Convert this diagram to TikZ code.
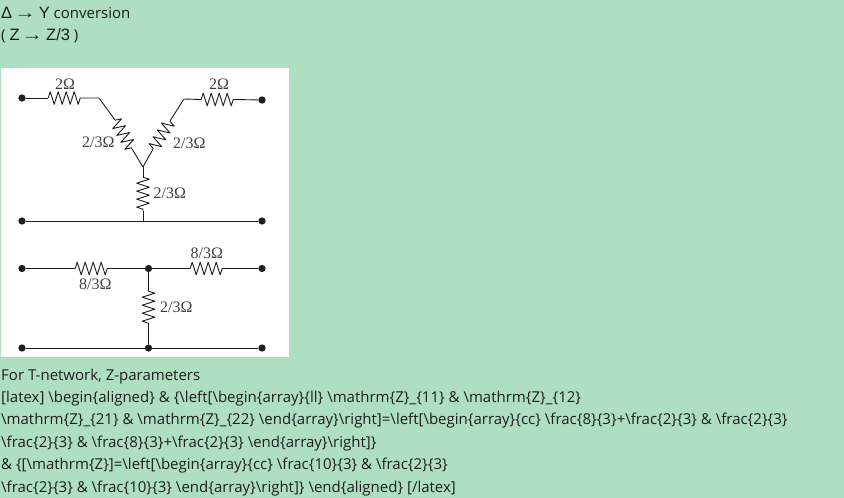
\documentclass[tikz,border=0pt]{standalone}
\usepackage{graphicx}
\usepackage{fontspec}
\setmainfont{Open Sans}
\newfontfamily\symfont{Liberation Sans}
\newfontfamily\labfont{Liberation Serif}
\usetikzlibrary{decorations.pathmorphing}
\definecolor{bgmint}{HTML}{ADDFC0}
\definecolor{ink}{HTML}{1E1E1E}
\newcommand{\bs}{\textbackslash{}}
\newcommand{\bigsym}{\symfont\fontsize{16.5}{16.5}\selectfont}
\newcommand{\longarrow}{\hspace{-2.5pt}\scalebox{1.3}[1]{→}\hspace{-1.5pt}}
\tikzset{
  x=1pt,y=-1pt,
  wire/.style={draw=ink,line width=0.9pt,line join=round},
  res/.style={wire,decorate,decoration={zigzag,segment length=8pt,amplitude=6.3pt,pre length=0pt,post length=0pt}},
  term/.style={circle,fill=ink,draw=none,minimum size=7.3pt,inner sep=0pt},
  joint/.style={inner sep=0pt,minimum size=0pt},
  lab/.style={font=\labfont\fontsize{16}{16}\selectfont,text=ink!85,inner sep=0pt,anchor=base west},
  txt/.style={font=\fontsize{15}{17}\selectfont,text=ink,inner sep=0pt,anchor=base west},
}
\begin{document}
\begin{tikzpicture}
\useasboundingbox (0,0) rectangle (844,498);
\fill[bgmint] (0,0) rectangle (844,498);
\fill[white] (1,68) rectangle (289,357);
% upper network
\node[term] (a1) at (22,98) {};
\node[term] (a2) at (262,100) {};
\node[term] (a3) at (22,221) {};
\node[term] (a4) at (262,221) {};
\node[joint] (j) at (143,167) {};
\node[joint] (jb) at (143,221) {};
\node[joint] (p1) at (48,98) {};
\node[joint] (p2) at (83,98) {};
\node[joint] (p3) at (99,98) {};
\node[joint] (p4) at (115,120) {};
\node[joint] (p5) at (132,149) {};
\node[joint] (q1) at (235,99.5) {};
\node[joint] (q2) at (201,99.5) {};
\node[joint] (q3) at (184,99) {};
\node[joint] (q4) at (170,121) {};
\node[joint] (q5) at (153,149) {};
\node[joint] (r1) at (143,177) {};
\node[joint] (r2) at (143,211) {};
\draw[wire] (a1) -- (p1);
\draw[res] (p1) -- (p2);
\draw[wire] (p2) -- (p3) -- (p4);
\draw[res] (p4) -- (p5);
\draw[wire] (p5) -- (j);
\draw[wire] (a2) -- (q1);
\draw[res] (q2) -- (q1);
\draw[wire] (q2) -- (q3) -- (q4);
\draw[res] (q4) -- (q5);
\draw[wire] (q5) -- (j);
\draw[wire] (j) -- (r1);
\draw[res] (r1) -- (r2);
\draw[wire] (r2) -- (jb);
\draw[wire] (a3) -- (a4);
\node[lab] (l1) at (55,89) {2Ω};
\node[lab] (l2) at (209,89) {2Ω};
\node[lab] (l3) at (82,147.5) {2/3Ω};
\node[lab] (l4) at (173,148.5) {2/3Ω};
\node[lab] (l5) at (153.5,198) {2/3Ω};
% lower network
\node[term] (b1) at (22,268.5) {};
\node[term] (b2) at (148.5,268.5) {};
\node[term] (b3) at (262,268.5) {};
\node[term] (b4) at (22,348) {};
\node[term] (b5) at (148.5,348) {};
\node[term] (b6) at (262,348) {};
\node[joint] (s1) at (75,268.5) {};
\node[joint] (s2) at (109,268.5) {};
\node[joint] (t1) at (190,268.5) {};
\node[joint] (t2) at (224,268.5) {};
\node[joint] (u1) at (148.5,291) {};
\node[joint] (u2) at (148.5,325) {};
\draw[wire] (b1) -- (s1);
\draw[res] (s1) -- (s2);
\draw[wire] (s2) -- (b2) -- (t1);
\draw[res] (t1) -- (t2);
\draw[wire] (t2) -- (b3);
\draw[wire] (b2) -- (u1);
\draw[res] (u1) -- (u2);
\draw[wire] (u2) -- (b5);
\draw[wire] (b4) -- (b6);
\node[lab] (l6) at (190.5,258.5) {8/3Ω};
\node[lab] (l7) at (79,289) {8/3Ω};
\node[lab] (l8) at (160,312.5) {2/3Ω};
% text
\node[txt] (h1) at (1,18) {{\bigsym Δ \longarrow\ Y} conversion};
\node[txt] (h2) at (1,40) {( {\bigsym Z \longarrow\ Z/3} )};
\node[txt] (t0) at (1,380) {For T-network, Z-parameters};
\node[txt] (t3) at (1,402) {[latex] \bs begin\{aligned\} \& \{\bs left[\bs begin\{array\}\{ll\} \bs mathrm\{Z\}\_\{11\} \& \bs mathrm\{Z\}\_\{12\}};
\node[txt] (t4) at (1,424) {\bs mathrm\{Z\}\_\{21\} \& \bs mathrm\{Z\}\_\{22\} \bs end\{array\}\bs right]=\bs left[\bs begin\{array\}\{cc\} \bs frac\{8\}\{3\}+\bs frac\{2\}\{3\} \& \bs frac\{2\}\{3\}};
\node[txt] (t5) at (1,447) {\bs frac\{2\}\{3\} \& \bs frac\{8\}\{3\}+\bs frac\{2\}\{3\} \bs end\{array\}\bs right]\}};
\node[txt] (t6) at (1,469) {\& \{[\bs mathrm\{Z\}]=\bs left[\bs begin\{array\}\{cc\} \bs frac\{10\}\{3\} \& \bs frac\{2\}\{3\}};
\node[txt] (t7) at (1,492) {\bs frac\{2\}\{3\} \& \bs frac\{10\}\{3\} \bs end\{array\}\bs right]\} \bs end\{aligned\} [/latex]};
\end{tikzpicture}
\end{document}
